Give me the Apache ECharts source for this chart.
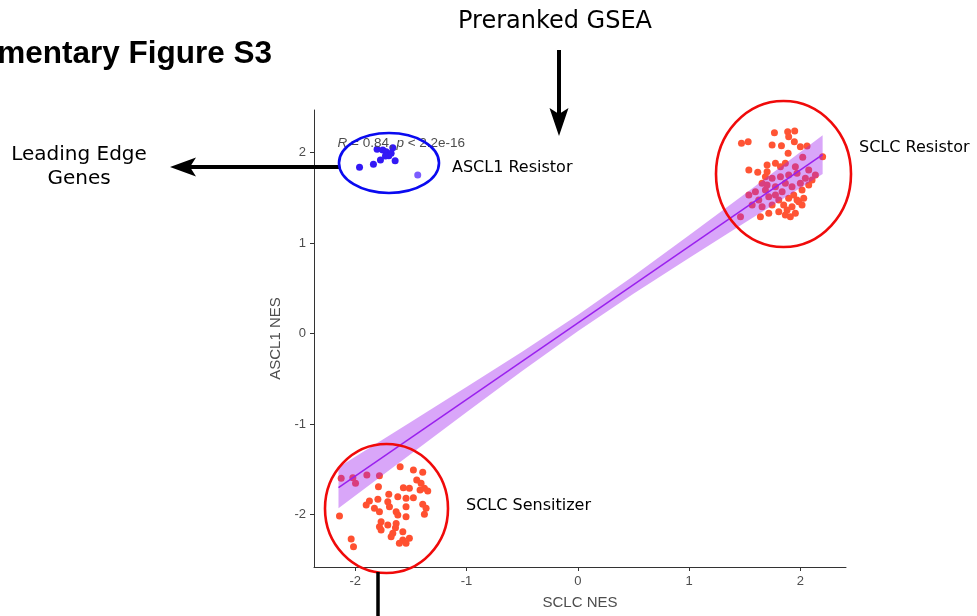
<!DOCTYPE html>
<html>
<head>
<meta charset="utf-8">
<script src="https://cdn.jsdelivr.net/npm/echarts@6/dist/echarts.min.js"></script>
<style>
  html, body { margin: 0; padding: 0; background: #ffffff; }
  #chart { width: 977px; height: 616px; }
</style>
</head>
<body>
<div id="chart"></div>
<script>
// Axis tick values
const xTicks = [-2, -1, 0, 1, 2];
const yTicks = [-2, -1, 0, 1, 2];

// Leading-edge gene sets: ASCL1 resistor group
const ascl1X = [-1.961, -1.836, -1.773, -1.803, -1.752, -1.722, -1.662, -1.677, -1.698, -1.728, -1.641];
const ascl1Y = [1.836, 1.870, 1.917, 2.035, 2.028, 2.009, 2.053, 1.991, 1.965, 1.961, 1.909];
const ascl1LightX = [-1.438];
const ascl1LightY = [1.751];

// SCLC resistor group
const resistorX = [1.767, 1.886, 1.949, 1.895, 1.946, 1.471, 1.531, 1.746, 1.830, 2.000, 2.060,
  1.890, 2.021, 2.200, 1.537, 1.617, 1.701, 1.776, 1.865, 1.955, 2.075, 1.656, 1.746, 1.821,
  1.895, 1.970, 2.045, 2.135, 1.596, 1.686, 1.776, 1.836, 1.925, 2.015, 2.075, 1.626, 1.716,
  1.806, 1.895, 1.970, 2.030, 1.567, 1.656, 1.746, 1.850, 1.925, 2.015, 1.462, 1.641, 1.716,
  1.806, 1.881, 1.910, 1.955, 1.701, 1.865, 1.940, 1.776, 1.686, 2.000, 2.105, 1.537, 1.821,
  1.701, 1.985, 1.865];
const resistorY = [2.219, 2.230, 2.238, 2.175, 2.120, 2.102, 2.120, 2.083, 2.075, 2.064, 2.072,
  1.991, 1.947, 1.954, 1.807, 1.781, 1.788, 1.881, 1.881, 1.843, 1.807, 1.660, 1.715, 1.733,
  1.751, 1.770, 1.715, 1.751, 1.567, 1.586, 1.622, 1.567, 1.622, 1.586, 1.641, 1.475, 1.512,
  1.475, 1.494, 1.475, 1.494, 1.420, 1.401, 1.420, 1.420, 1.401, 1.420, 1.291, 1.291, 1.328,
  1.346, 1.365, 1.291, 1.328, 1.641, 1.660, 1.530, 1.530, 1.733, 1.660, 1.696, 1.530, 1.843,
  1.862, 1.457, 1.309];

// SCLC sensitizer group
const sensitizerX = [-2.126, -2.021, -1.997, -1.895, -1.782, -1.596, -1.477, -1.393, -1.447, -1.408,
  -1.378, -1.348, -1.417, -1.513, -1.567, -1.791, -1.698, -1.617, -1.543, -1.477, -1.872, -1.796,
  -1.707, -1.543, -1.393, -1.363, -1.378, -1.901, -1.827, -1.782, -1.692, -1.632, -1.617, -1.543,
  -2.141, -1.767, -1.782, -1.707, -1.632, -1.638, -1.767, -1.662, -1.572, -1.677, -1.572, -1.513,
  -1.603, -2.036, -2.015, -1.543];
const sensitizerY = [-1.600, -1.593, -1.655, -1.564, -1.571, -1.472, -1.508, -1.534, -1.619, -1.655,
  -1.711, -1.740, -1.729, -1.711, -1.704, -1.693, -1.777, -1.803, -1.821, -1.814, -1.851, -1.832,
  -1.858, -1.914, -1.887, -1.932, -1.998, -1.895, -1.932, -1.969, -1.914, -1.969, -2.006, -2.024,
  -2.017, -2.080, -2.135, -2.116, -2.098, -2.146, -2.171, -2.208, -2.190, -2.245, -2.282, -2.263,
  -2.318, -2.271, -2.356, -2.318];

// Linear fit and its confidence band
const fitX = [-2.15, 2.2];
const fitY = [-1.704, 1.976];
const bandX = [-2.15, -1.5, -1.0, -0.5, 0, 0.5, 1.0, 1.5, 2.2];
const bandLow = [-1.930, -1.330, -0.870, -0.415, 0.025, 0.440, 0.835, 1.225, 1.762];
const bandHigh = [-1.478, -0.978, -0.592, -0.201, 0.205, 0.636, 1.087, 1.543, 2.190];

const pairs = (xs, ys) => xs.map((x, i) => [x, ys[i]]);

const axisFont = 'Liberation Sans, Arial, sans-serif';
const noteFont = 'DejaVu Sans, Verdana, sans-serif';

function label(text, x, y, size, opts) {
  const o = opts || {};
  return {
    type: 'text', z: 20, silent: true,
    style: {
      text: text, x: x, y: y,
      font: (o.weight || 'normal') + ' ' + size + 'px ' + (o.family || noteFont),
      fill: o.fill || '#000000',
      align: o.align || 'left', textAlign: o.align || 'left',
      verticalAlign: 'middle', textVerticalAlign: 'middle'
    }
  };
}

const chart = echarts.init(document.getElementById('chart'), null, { renderer: 'canvas' });

chart.setOption({
  animation: false,
  backgroundColor: '#ffffff',
  grid: { left: 314, right: 131, top: 110, bottom: 49, containLabel: false },
  xAxis: {
    type: 'value', min: -2.37, max: 2.41,
    name: 'SCLC NES', nameLocation: 'middle', nameGap: 28,
    nameTextStyle: { color: '#4d4d4d', fontSize: 15, fontFamily: axisFont },
    axisLine: { show: true, onZero: false, lineStyle: { color: '#333333', width: 1 } },
    axisTick: { show: true, length: 4, inside: false, customValues: xTicks, lineStyle: { color: '#333333' } },
    axisLabel: { customValues: xTicks, margin: 8, color: '#4d4d4d', fontSize: 13, fontFamily: axisFont },
    splitLine: { show: false }
  },
  yAxis: {
    type: 'value', min: -2.58, max: 2.47,
    name: 'ASCL1 NES', nameLocation: 'middle', nameGap: 24, nameRotate: 90,
    nameTextStyle: { color: '#4d4d4d', fontSize: 15, fontFamily: axisFont },
    axisLine: { show: true, onZero: false, lineStyle: { color: '#333333', width: 1 } },
    axisTick: { show: true, length: 4, inside: false, customValues: yTicks, lineStyle: { color: '#333333' } },
    axisLabel: { customValues: yTicks, margin: 8, color: '#4d4d4d', fontSize: 13, fontFamily: axisFont },
    splitLine: { show: false }
  },
  series: [
    {
      name: 'SCLC Sensitizer', type: 'scatter', z: 2, symbolSize: 7,
      itemStyle: { color: '#ff5030', opacity: 1 },
      data: pairs(sensitizerX, sensitizerY)
    },
    {
      name: 'SCLC Resistor', type: 'scatter', z: 2, symbolSize: 7,
      itemStyle: { color: '#ff5434', opacity: 1 },
      data: pairs(resistorX, resistorY)
    },
    {
      name: 'ASCL1 Resistor', type: 'scatter', z: 2, symbolSize: 7,
      itemStyle: { color: '#3318f5', opacity: 1 },
      data: pairs(ascl1X, ascl1Y)
    },
    {
      name: 'ASCL1 Resistor (weak)', type: 'scatter', z: 2, symbolSize: 7,
      itemStyle: { color: '#7b5cff', opacity: 1 },
      data: pairs(ascl1LightX, ascl1LightY)
    },
    {
      name: 'Confidence band', type: 'custom', z: 3, silent: true,
      data: bandX.map((x, i) => [x, bandLow[i], bandHigh[i]]),
      encode: { x: 0, y: [1, 2] },
      renderItem: function (params, api) {
        if (params.dataIndex !== 0) return null;
        const upper = bandX.map((x, i) => api.coord([x, bandHigh[i]]));
        const lower = bandX.map((x, i) => api.coord([x, bandLow[i]])).reverse();
        return {
          type: 'polygon',
          shape: { points: upper.concat(lower) },
          style: { fill: 'rgba(160,32,240,0.4)', stroke: null }
        };
      }
    },
    {
      name: 'Linear fit', type: 'line', z: 4, silent: true,
      showSymbol: false, symbol: 'none',
      lineStyle: { color: '#9a20ee', width: 1.5 },
      data: pairs(fitX, fitY)
    }
  ],
  graphic: [
    label('Supplementary Figure S3', 272, 54, 31.5,
      { family: axisFont, weight: 'bold', align: 'right' }),
    label('Preranked GSEA', 555, 22, 24, { align: 'center' }),
    { type: 'line', z: 20, silent: true,
      shape: { x1: 559, y1: 50, x2: 559, y2: 118 },
      style: { stroke: '#000000', lineWidth: 4 } },
    { type: 'polygon', z: 20, silent: true,
      shape: { points: [[559, 136], [549.5, 108], [559, 114], [568.5, 108]] },
      style: { fill: '#000000' } },
    label('Leading Edge', 79, 155, 20, { align: 'center' }),
    label('Genes', 79, 179, 20, { align: 'center' }),
    { type: 'line', z: 20, silent: true,
      shape: { x1: 340, y1: 167, x2: 188, y2: 167 },
      style: { stroke: '#000000', lineWidth: 4 } },
    { type: 'polygon', z: 20, silent: true,
      shape: { points: [[170, 167], [196, 157.5], [190, 167], [196, 176.5]] },
      style: { fill: '#000000' } },
    {
      type: 'text', z: 19, silent: true,
      style: {
        x: 337.5, y: 143,
        text: '{i|R} = 0.84, {i|p} < 2.2e-16',
        font: '13.5px ' + axisFont, fill: '#4d4d4d',
        align: 'left', textAlign: 'left', verticalAlign: 'middle', textVerticalAlign: 'middle',
        rich: { i: { fontStyle: 'italic', fontSize: 13.5, fontFamily: axisFont, fill: '#4d4d4d', color: '#4d4d4d' } }
      }
    },
    { type: 'ellipse', z: 20, silent: true,
      shape: { cx: 389, cy: 163, rx: 50, ry: 30 },
      style: { fill: null, stroke: '#0a0af0', lineWidth: 2.6 } },
    label('ASCL1 Resistor', 452, 167.5, 16),
    { type: 'ellipse', z: 20, silent: true,
      shape: { cx: 783.5, cy: 174, rx: 67.5, ry: 73 },
      style: { fill: null, stroke: '#f00a0a', lineWidth: 2.6 } },
    label('SCLC Resistor', 859, 148, 16),
    { type: 'ellipse', z: 20, silent: true,
      shape: { cx: 386.5, cy: 508.5, rx: 61.5, ry: 64.5 },
      style: { fill: null, stroke: '#f00a0a', lineWidth: 2.6 } },
    label('SCLC Sensitizer', 466, 506, 16),
    { type: 'line', z: 20, silent: true,
      shape: { x1: 378, y1: 572, x2: 378, y2: 616 },
      style: { stroke: '#000000', lineWidth: 3.5 } }
  ]
});
</script>
</body>
</html>
